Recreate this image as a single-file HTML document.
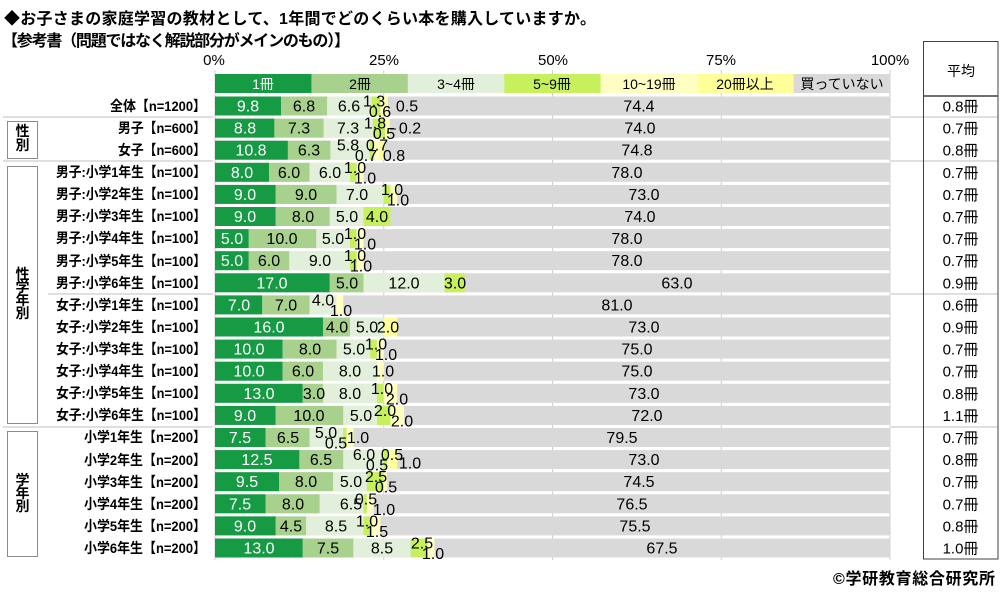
<!DOCTYPE html>
<html><head><meta charset="utf-8"><style>
html,body{margin:0;padding:0;background:#fff;}
svg{display:block;font-family:"Liberation Sans","Noto Sans CJK JP",sans-serif;}
.g1{fill:#169a43}.g2{fill:#a9d18e}.g3{fill:#e2efda}.l{fill:#c6f05c}.y1{fill:#ffffc4}.y2{fill:#ffff99}.gr{fill:#d9d9d9}
.n{font-size:16px;text-anchor:middle;fill:#000;}
.w{fill:#fff;}
.lb{font-size:14px;font-weight:bold;text-anchor:end;}
.tv{font-size:15px;text-anchor:middle;}
.sep{stroke:#bfbfbf;stroke-width:1;}
</style></head><body>
<svg width="1000" height="595" viewBox="0 0 1000 595" xmlns="http://www.w3.org/2000/svg">
<rect width="1000" height="595" fill="#fff"/>
<text x="4" y="24" font-size="16" font-weight="bold" textLength="592" lengthAdjust="spacing">◆お子さまの家庭学習の教材として、1年間でどのくらい本を購入していますか。</text>
<text x="2" y="46" font-size="16" font-weight="bold" textLength="348" lengthAdjust="spacing">【参考書（問題ではなく解説部分がメインのもの）】</text>

<g font-size="15" text-anchor="middle">
<text x="214" y="65">0%</text><text x="384" y="65">25%</text><text x="553" y="65">50%</text><text x="721" y="65">75%</text><text x="890" y="65">100%</text>
</g>

<g stroke="#cfcfcf" stroke-width="1">
<line x1="215" y1="70" x2="215" y2="560"/><line x1="383.75" y1="70" x2="383.75" y2="560"/><line x1="552.5" y1="70" x2="552.5" y2="560"/><line x1="721.25" y1="70" x2="721.25" y2="560"/><line x1="890" y1="70" x2="890" y2="560"/>
</g>

<!-- legend -->
<rect class="g1" x="215" y="74" width="96.5" height="19"/>
<rect class="g2" x="311.4" y="74" width="96.5" height="19"/>
<rect class="g3" x="407.9" y="74" width="96.5" height="19"/>
<rect class="l" x="504.3" y="74" width="96.5" height="19"/>
<rect class="y1" x="600.7" y="74" width="96.5" height="19"/>
<rect class="y2" x="697.1" y="74" width="96.5" height="19"/>
<rect class="gr" x="793.6" y="74" width="96.4" height="19"/>
<g font-size="14" text-anchor="middle">
<text x="263" y="89" fill="#fff">1冊</text><text x="360" y="89">2冊</text><text x="456" y="89">3~4冊</text><text x="552" y="89">5~9冊</text><text x="649" y="89">10~19冊</text><text x="745" y="89">20冊以上</text><text x="842" y="89">買っていない</text>
</g>

<!-- separators -->
<line class="sep" x1="3" y1="117" x2="213" y2="117"/><line class="sep" x1="891" y1="117" x2="998" y2="117"/>
<line class="sep" x1="3" y1="161" x2="213" y2="161"/><line class="sep" x1="891" y1="161" x2="998" y2="161"/>
<line class="sep" x1="48" y1="294" x2="213" y2="294"/><line class="sep" x1="891" y1="294" x2="998" y2="294"/>
<line class="sep" x1="3" y1="427" x2="213" y2="427"/><line class="sep" x1="891" y1="427" x2="998" y2="427"/>

<!-- group boxes -->
<g fill="none" stroke="#8c8c8c" stroke-width="1">
<rect x="7.5" y="121.5" width="30" height="37"/>
<rect x="7.5" y="166.5" width="30" height="257"/>
<rect x="7.5" y="431.5" width="30" height="125"/>
</g>
<g font-size="14" font-weight="bold" text-anchor="middle">
<text x="22.5" y="136">性</text><text x="22.5" y="150">別</text>
<text x="22.5" y="279">性</text><text x="22.5" y="292">学</text><text x="22.5" y="305">年</text><text x="22.5" y="318">別</text>
<text x="22.5" y="485">学</text><text x="22.5" y="498">年</text><text x="22.5" y="511">別</text>
</g>

<!-- row labels -->
<g class="lb">
<text x="206" y="111" textLength="96" lengthAdjust="spacingAndGlyphs">全体【n=1200】</text>
<text x="206" y="133" textLength="88" lengthAdjust="spacingAndGlyphs">男子【n=600】</text>
<text x="206" y="155" textLength="88" lengthAdjust="spacingAndGlyphs">女子【n=600】</text>
<text x="206" y="177" textLength="150" lengthAdjust="spacingAndGlyphs">男子:小学1年生【n=100】</text>
<text x="206" y="199" textLength="150" lengthAdjust="spacingAndGlyphs">男子:小学2年生【n=100】</text>
<text x="206" y="221" textLength="150" lengthAdjust="spacingAndGlyphs">男子:小学3年生【n=100】</text>
<text x="206" y="243" textLength="150" lengthAdjust="spacingAndGlyphs">男子:小学4年生【n=100】</text>
<text x="206" y="266" textLength="150" lengthAdjust="spacingAndGlyphs">男子:小学5年生【n=100】</text>
<text x="206" y="288" textLength="150" lengthAdjust="spacingAndGlyphs">男子:小学6年生【n=100】</text>
<text x="206" y="310" textLength="150" lengthAdjust="spacingAndGlyphs">女子:小学1年生【n=100】</text>
<text x="206" y="332" textLength="150" lengthAdjust="spacingAndGlyphs">女子:小学2年生【n=100】</text>
<text x="206" y="354" textLength="150" lengthAdjust="spacingAndGlyphs">女子:小学3年生【n=100】</text>
<text x="206" y="376" textLength="150" lengthAdjust="spacingAndGlyphs">女子:小学4年生【n=100】</text>
<text x="206" y="398" textLength="150" lengthAdjust="spacingAndGlyphs">女子:小学5年生【n=100】</text>
<text x="206" y="420" textLength="150" lengthAdjust="spacingAndGlyphs">女子:小学6年生【n=100】</text>
<text x="206" y="442" textLength="122" lengthAdjust="spacingAndGlyphs">小学1年生【n=200】</text>
<text x="206" y="465" textLength="122" lengthAdjust="spacingAndGlyphs">小学2年生【n=200】</text>
<text x="206" y="487" textLength="122" lengthAdjust="spacingAndGlyphs">小学3年生【n=200】</text>
<text x="206" y="509" textLength="122" lengthAdjust="spacingAndGlyphs">小学4年生【n=200】</text>
<text x="206" y="531" textLength="122" lengthAdjust="spacingAndGlyphs">小学5年生【n=200】</text>
<text x="206" y="553" textLength="122" lengthAdjust="spacingAndGlyphs">小学6年生【n=200】</text>
</g>

<!-- bars -->
<g>
<rect class="gr" x="215" y="96.5" width="675" height="19"/>
<rect class="g1" x="215" y="96.5" width="66.15" height="19"/><rect class="g2" x="281.15" y="96.5" width="45.9" height="19"/><rect class="g3" x="327.05" y="96.5" width="44.55" height="19"/><rect class="l" x="371.6" y="96.5" width="8.78" height="19"/><rect class="y1" x="380.38" y="96.5" width="4.05" height="19"/><rect class="y2" x="384.43" y="96.5" width="3.38" height="19"/>
<rect class="gr" x="215" y="118.6" width="675" height="19"/>
<rect class="g1" x="215" y="118.6" width="59.4" height="19"/><rect class="g2" x="274.4" y="118.6" width="49.28" height="19"/><rect class="g3" x="323.68" y="118.6" width="49.28" height="19"/><rect class="l" x="372.95" y="118.6" width="12.15" height="19"/><rect class="y1" x="385.1" y="118.6" width="3.38" height="19"/><rect class="y2" x="388.48" y="118.6" width="1.35" height="19"/>
<rect class="gr" x="215" y="140.7" width="675" height="19"/>
<rect class="g1" x="215" y="140.7" width="72.9" height="19"/><rect class="g2" x="287.9" y="140.7" width="42.53" height="19"/><rect class="g3" x="330.43" y="140.7" width="39.15" height="19"/><rect class="l" x="369.58" y="140.7" width="4.73" height="19"/><rect class="y1" x="374.3" y="140.7" width="4.73" height="19"/><rect class="y2" x="379.03" y="140.7" width="5.4" height="19"/>
<rect class="gr" x="215" y="162.8" width="675" height="19"/>
<rect class="g1" x="215" y="162.8" width="54" height="19"/><rect class="g2" x="269" y="162.8" width="40.5" height="19"/><rect class="g3" x="309.5" y="162.8" width="40.5" height="19"/><rect class="l" x="350" y="162.8" width="6.75" height="19"/><rect class="y1" x="356.75" y="162.8" width="6.75" height="19"/>
<rect class="gr" x="215" y="184.9" width="675" height="19"/>
<rect class="g1" x="215" y="184.9" width="60.75" height="19"/><rect class="g2" x="275.75" y="184.9" width="60.75" height="19"/><rect class="g3" x="336.5" y="184.9" width="47.25" height="19"/><rect class="l" x="383.75" y="184.9" width="6.75" height="19"/><rect class="y1" x="390.5" y="184.9" width="6.75" height="19"/>
<rect class="gr" x="215" y="207" width="675" height="19"/>
<rect class="g1" x="215" y="207" width="60.75" height="19"/><rect class="g2" x="275.75" y="207" width="54" height="19"/><rect class="g3" x="329.75" y="207" width="33.75" height="19"/><rect class="l" x="363.5" y="207" width="27" height="19"/>
<rect class="gr" x="215" y="229.1" width="675" height="19"/>
<rect class="g1" x="215" y="229.1" width="33.75" height="19"/><rect class="g2" x="248.75" y="229.1" width="67.5" height="19"/><rect class="g3" x="316.25" y="229.1" width="33.75" height="19"/><rect class="l" x="350" y="229.1" width="6.75" height="19"/><rect class="y1" x="356.75" y="229.1" width="6.75" height="19"/>
<rect class="gr" x="215" y="251.2" width="675" height="19"/>
<rect class="g1" x="215" y="251.2" width="33.75" height="19"/><rect class="g2" x="248.75" y="251.2" width="40.5" height="19"/><rect class="g3" x="289.25" y="251.2" width="60.75" height="19"/><rect class="l" x="350" y="251.2" width="6.75" height="19"/><rect class="y1" x="356.75" y="251.2" width="6.75" height="19"/>
<rect class="gr" x="215" y="273.3" width="675" height="19"/>
<rect class="g1" x="215" y="273.3" width="114.75" height="19"/><rect class="g2" x="329.75" y="273.3" width="33.75" height="19"/><rect class="g3" x="363.5" y="273.3" width="81" height="19"/><rect class="l" x="444.5" y="273.3" width="20.25" height="19"/>
<rect class="gr" x="215" y="295.4" width="675" height="19"/>
<rect class="g1" x="215" y="295.4" width="47.25" height="19"/><rect class="g2" x="262.25" y="295.4" width="47.25" height="19"/><rect class="g3" x="309.5" y="295.4" width="27" height="19"/><rect class="y1" x="336.5" y="295.4" width="6.75" height="19"/>
<rect class="gr" x="215" y="317.5" width="675" height="19"/>
<rect class="g1" x="215" y="317.5" width="108" height="19"/><rect class="g2" x="323" y="317.5" width="27" height="19"/><rect class="g3" x="350" y="317.5" width="33.75" height="19"/><rect class="y2" x="383.75" y="317.5" width="13.5" height="19"/>
<rect class="gr" x="215" y="339.6" width="675" height="19"/>
<rect class="g1" x="215" y="339.6" width="67.5" height="19"/><rect class="g2" x="282.5" y="339.6" width="54" height="19"/><rect class="g3" x="336.5" y="339.6" width="33.75" height="19"/><rect class="l" x="370.25" y="339.6" width="6.75" height="19"/><rect class="y1" x="377" y="339.6" width="6.75" height="19"/>
<rect class="gr" x="215" y="361.7" width="675" height="19"/>
<rect class="g1" x="215" y="361.7" width="67.5" height="19"/><rect class="g2" x="282.5" y="361.7" width="40.5" height="19"/><rect class="g3" x="323" y="361.7" width="54" height="19"/><rect class="y1" x="377" y="361.7" width="6.75" height="19"/>
<rect class="gr" x="215" y="383.8" width="675" height="19"/>
<rect class="g1" x="215" y="383.8" width="87.75" height="19"/><rect class="g2" x="302.75" y="383.8" width="20.25" height="19"/><rect class="g3" x="323" y="383.8" width="54" height="19"/><rect class="l" x="377" y="383.8" width="6.75" height="19"/><rect class="y1" x="383.75" y="383.8" width="13.5" height="19"/>
<rect class="gr" x="215" y="405.9" width="675" height="19"/>
<rect class="g1" x="215" y="405.9" width="60.75" height="19"/><rect class="g2" x="275.75" y="405.9" width="67.5" height="19"/><rect class="g3" x="343.25" y="405.9" width="33.75" height="19"/><rect class="l" x="377" y="405.9" width="13.5" height="19"/><rect class="y1" x="390.5" y="405.9" width="13.5" height="19"/>
<rect class="gr" x="215" y="428" width="675" height="19"/>
<rect class="g1" x="215" y="428" width="50.63" height="19"/><rect class="g2" x="265.63" y="428" width="43.88" height="19"/><rect class="g3" x="309.5" y="428" width="33.75" height="19"/><rect class="l" x="343.25" y="428" width="3.38" height="19"/><rect class="y1" x="346.63" y="428" width="6.75" height="19"/>
<rect class="gr" x="215" y="450.1" width="675" height="19"/>
<rect class="g1" x="215" y="450.1" width="84.38" height="19"/><rect class="g2" x="299.38" y="450.1" width="43.88" height="19"/><rect class="g3" x="343.25" y="450.1" width="40.5" height="19"/><rect class="l" x="383.75" y="450.1" width="3.38" height="19"/><rect class="y1" x="387.13" y="450.1" width="3.38" height="19"/><rect class="y2" x="390.5" y="450.1" width="6.75" height="19"/>
<rect class="gr" x="215" y="472.2" width="675" height="19"/>
<rect class="g1" x="215" y="472.2" width="64.13" height="19"/><rect class="g2" x="279.13" y="472.2" width="54" height="19"/><rect class="g3" x="333.13" y="472.2" width="33.75" height="19"/><rect class="l" x="366.88" y="472.2" width="16.88" height="19"/><rect class="y1" x="383.75" y="472.2" width="3.38" height="19"/>
<rect class="gr" x="215" y="494.3" width="675" height="19"/>
<rect class="g1" x="215" y="494.3" width="50.63" height="19"/><rect class="g2" x="265.63" y="494.3" width="54" height="19"/><rect class="g3" x="319.63" y="494.3" width="43.88" height="19"/><rect class="l" x="363.5" y="494.3" width="3.38" height="19"/><rect class="y1" x="366.88" y="494.3" width="6.75" height="19"/>
<rect class="gr" x="215" y="516.4" width="675" height="19"/>
<rect class="g1" x="215" y="516.4" width="60.75" height="19"/><rect class="g2" x="275.75" y="516.4" width="30.38" height="19"/><rect class="g3" x="306.13" y="516.4" width="57.38" height="19"/><rect class="l" x="363.5" y="516.4" width="6.75" height="19"/><rect class="y1" x="370.25" y="516.4" width="10.13" height="19"/>
<rect class="gr" x="215" y="538.5" width="675" height="19"/>
<rect class="g1" x="215" y="538.5" width="87.75" height="19"/><rect class="g2" x="302.75" y="538.5" width="50.63" height="19"/><rect class="g3" x="353.38" y="538.5" width="57.38" height="19"/><rect class="l" x="410.75" y="538.5" width="16.88" height="19"/><rect class="y1" x="427.63" y="538.5" width="6.75" height="19"/>
</g>

<!-- bar labels -->
<g class="n">
<text class="w" x="248" y="111.5">9.8</text><text x="304" y="111.5">6.8</text><text x="349" y="111.5">6.6</text><text x="374" y="106.5">1.3</text><text x="380" y="117">0.6</text><text x="407" y="111.5">0.5</text><text x="639" y="111.5">74.4</text>
<text class="w" x="245" y="133.6">8.8</text><text x="299" y="133.6">7.3</text><text x="348" y="133.6">7.3</text><text x="375" y="128.6">1.8</text><text x="384" y="139.1">0.5</text><text x="410" y="133.6">0.2</text><text x="640" y="133.6">74.0</text>
<text class="w" x="251" y="155.7">10.8</text><text x="309" y="155.7">6.3</text><text x="348" y="150.7">5.8</text><text x="377" y="150.7">0.7</text><text x="366" y="161.2">0.7</text><text x="394" y="161.2">0.8</text><text x="637" y="155.7">74.8</text>
<text class="w" x="242" y="177.8">8.0</text><text x="289" y="177.8">6.0</text><text x="330" y="177.8">6.0</text><text x="355" y="172.8">1.0</text><text x="365" y="183.3">1.0</text><text x="627" y="177.8">78.0</text>
<text class="w" x="245" y="199.9">9.0</text><text x="306" y="199.9">9.0</text><text x="357" y="199.9">7.0</text><text x="392" y="194.9">1.0</text><text x="398" y="205.4">1.0</text><text x="644" y="199.9">73.0</text>
<text class="w" x="245" y="222">9.0</text><text x="303" y="222">8.0</text><text x="347" y="222">5.0</text><text x="377" y="222">4.0</text><text x="640" y="222">74.0</text>
<text class="w" x="232" y="244.1">5.0</text><text x="282" y="244.1">10.0</text><text x="333" y="244.1">5.0</text><text x="355" y="239.1">1.0</text><text x="365" y="249.6">1.0</text><text x="627" y="244.1">78.0</text>
<text class="w" x="232" y="266.2">5.0</text><text x="269" y="266.2">6.0</text><text x="320" y="266.2">9.0</text><text x="355" y="261.2">1.0</text><text x="361" y="271.7">1.0</text><text x="627" y="266.2">78.0</text>
<text class="w" x="272" y="288.3">17.0</text><text x="347" y="288.3">5.0</text><text x="404" y="288.3">12.0</text><text x="455" y="288.3">3.0</text><text x="677" y="288.3">63.0</text>
<text class="w" x="239" y="310.4">7.0</text><text x="286" y="310.4">7.0</text><text x="323" y="305.4">4.0</text><text x="341" y="315.9">1.0</text><text x="617" y="310.4">81.0</text>
<text class="w" x="269" y="332.5">16.0</text><text x="337" y="332.5">4.0</text><text x="367" y="332.5">5.0</text><text x="388" y="332.5">2.0</text><text x="644" y="332.5">73.0</text>
<text class="w" x="249" y="354.6">10.0</text><text x="310" y="354.6">8.0</text><text x="354" y="354.6">5.0</text><text x="376" y="349.6">1.0</text><text x="386" y="360.1">1.0</text><text x="637" y="354.6">75.0</text>
<text class="w" x="249" y="376.7">10.0</text><text x="303" y="376.7">6.0</text><text x="350" y="376.7">8.0</text><text x="383" y="376.7">1.0</text><text x="637" y="376.7">75.0</text>
<text class="w" x="259" y="398.8">13.0</text><text x="314" y="398.8">3.0</text><text x="350" y="398.8">8.0</text><text x="382" y="393.8">1.0</text><text x="397" y="404.3">2.0</text><text x="644" y="398.8">73.0</text>
<text class="w" x="245" y="420.9">9.0</text><text x="309" y="420.9">10.0</text><text x="361" y="420.9">5.0</text><text x="385" y="415.9">2.0</text><text x="402" y="426.4">2.0</text><text x="647" y="420.9">72.0</text>
<text class="w" x="240" y="443">7.5</text><text x="288" y="443">6.5</text><text x="326" y="438">5.0</text><text x="336" y="448.5">0.5</text><text x="358" y="443">1.0</text><text x="622" y="443">79.5</text>
<text class="w" x="257" y="465.1">12.5</text><text x="321" y="465.1">6.5</text><text x="364" y="460.1">6.0</text><text x="392" y="460.1">0.5</text><text x="377" y="470.6">0.5</text><text x="410" y="468.6">1.0</text><text x="644" y="465.1">73.0</text>
<text class="w" x="247" y="487.2">9.5</text><text x="306" y="487.2">8.0</text><text x="351" y="487.2">5.0</text><text x="376" y="482.2">2.5</text><text x="386" y="492.7">0.5</text><text x="639" y="487.2">74.5</text>
<text class="w" x="240" y="509.3">7.5</text><text x="293" y="509.3">8.0</text><text x="351" y="509.3">6.5</text><text x="366" y="504.3">0.5</text><text x="384" y="514.8">1.0</text><text x="632" y="509.3">76.5</text>
<text class="w" x="245" y="531.4">9.0</text><text x="291" y="531.4">4.5</text><text x="336" y="531.4">8.5</text><text x="367" y="526.4">1.0</text><text x="377" y="536.9">1.5</text><text x="635" y="531.4">75.5</text>
<text class="w" x="259" y="553.5">13.0</text><text x="328" y="553.5">7.5</text><text x="382" y="553.5">8.5</text><text x="422" y="548.5">2.5</text><text x="433" y="559">1.0</text><text x="662" y="553.5">67.5</text>
</g>
<line x1="390" y1="129" x2="396" y2="129" stroke="#000" stroke-width="1"/>

<!-- average table -->
<rect x="923.5" y="41.5" width="74.5" height="517.5" fill="none" stroke="#404040" stroke-width="1"/>
<line x1="923.5" y1="96" x2="998" y2="96" stroke="#404040" stroke-width="1.5"/>
<text x="961" y="76" font-size="14" text-anchor="middle">平均</text>
<g class="tv">
<text x="960.5" y="111.5">0.8冊</text>
<text x="960.5" y="133.6">0.7冊</text>
<text x="960.5" y="155.7">0.8冊</text>
<text x="960.5" y="177.8">0.7冊</text>
<text x="960.5" y="199.9">0.7冊</text>
<text x="960.5" y="222">0.7冊</text>
<text x="960.5" y="244.1">0.7冊</text>
<text x="960.5" y="266.2">0.7冊</text>
<text x="960.5" y="288.3">0.9冊</text>
<text x="960.5" y="310.4">0.6冊</text>
<text x="960.5" y="332.5">0.9冊</text>
<text x="960.5" y="354.6">0.7冊</text>
<text x="960.5" y="376.7">0.7冊</text>
<text x="960.5" y="398.8">0.8冊</text>
<text x="960.5" y="420.9">1.1冊</text>
<text x="960.5" y="443">0.7冊</text>
<text x="960.5" y="465.1">0.8冊</text>
<text x="960.5" y="487.2">0.7冊</text>
<text x="960.5" y="509.3">0.7冊</text>
<text x="960.5" y="531.4">0.8冊</text>
<text x="960.5" y="553.5">1.0冊</text>
</g>

<text x="995" y="584" font-size="16" font-weight="bold" text-anchor="end" textLength="162" lengthAdjust="spacing">©学研教育総合研究所</text>
</svg>
</body></html>
